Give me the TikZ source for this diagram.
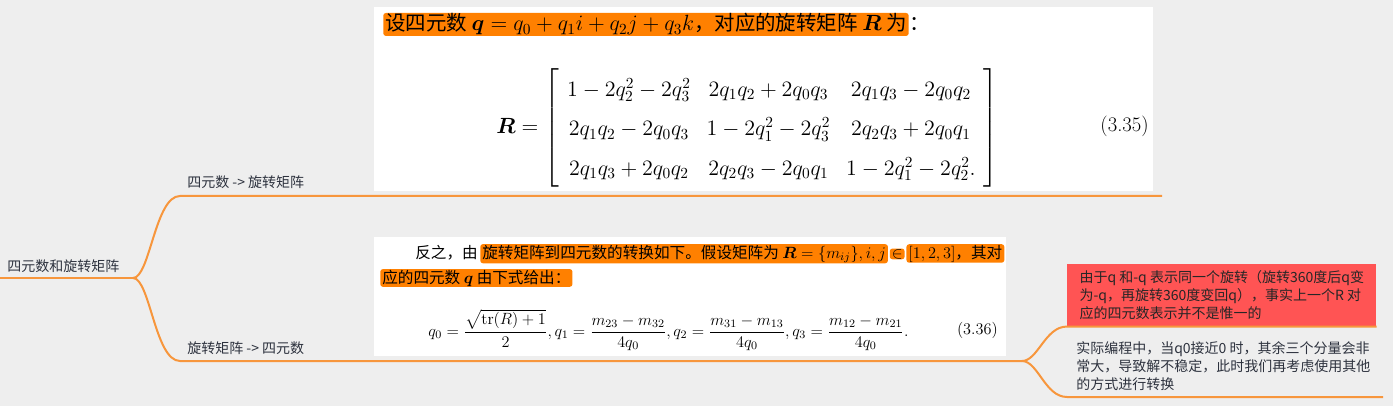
\RequirePackage{fix-cm}
\documentclass[tikz,border=0pt]{standalone}
\usepackage{amsmath,amssymb}
\usepackage{fontspec}
\newfontfamily\mapfont{Noto Sans CJK SC}
\newfontfamily\docfont[Scale=0.96]{Noto Sans CJK SC}
\newfontfamily\bigdocfont[Scale=0.93]{Noto Sans CJK SC}
\usepackage{tikz}
\usetikzlibrary{positioning}
\definecolor{mapbg}{RGB}{238,238,238}
\definecolor{branchline}{RGB}{247,150,60}
\definecolor{hlorange}{RGB}{255,128,0}
\definecolor{notered}{RGB}{255,84,84}
\definecolor{maptext}{RGB}{45,50,62}
\tikzset{
  topic/.style={inner sep=0pt, text=maptext, font=\fontsize{10.5}{13.5}\selectfont\mapfont},
  picbox/.style={fill=white, inner sep=0pt, anchor=north west},
  bigdoc/.style={font=\fontsize{16.5}{19.8}\selectfont\bigdocfont},
  smalldoc/.style={font=\fontsize{12.2}{14.6}\selectfont\docfont},
  hilite/.style={fill=hlorange, rounded corners=2pt, inner xsep=1.5pt, inner ysep=0.5pt, anchor=base west},
  branch/.style={draw=branchline, line width=1.5pt}
}

\begin{document}
\begin{tikzpicture}[x=0.75pt, y=-0.75pt]

% canvas
\fill[mapbg] (0,0) rectangle (1393,406);
\useasboundingbox (0,0) rectangle (1393,406);

% topics
\node[topic, anchor=west] (root) at (7,266) {四元数和旋转矩阵};
\node[topic, anchor=west] (qr)   at (187,182) {四元数 -> 旋转矩阵};
\node[topic, anchor=west] (rq)   at (187,348) {旋转矩阵 -> 四元数};

% pictures
\node[picbox, minimum width=584.25pt, minimum height=138pt] (rotpic)  at (374,7) {};
\node[picbox, minimum width=474pt, minimum height=89.25pt]  (quatpic) at (374,237) {};

% quaternion -> matrix
\node[hilite, bigdoc] (rotline) at (383,31)
  {设四元数 $\boldsymbol{q}=q_0+q_1i+q_2j+q_3k$，对应的旋转矩阵 $\boldsymbol{R}$ 为};
\node[bigdoc, anchor=base west, inner xsep=0pt] (rotcolon) at (rotline.base east) {：};
\node[bigdoc, anchor=west, inner sep=0pt] (rotmat) at (496,128)
  {\arraycolsep=6pt\def\arraystretch{1.5}%
   $\boldsymbol{R}=\left[\begin{array}{ccc}
     1-2q_2^2-2q_3^2 & 2q_1q_2+2q_0q_3 & 2q_1q_3-2q_0q_2\\
     2q_1q_2-2q_0q_3 & 1-2q_1^2-2q_3^2 & 2q_2q_3+2q_0q_1\\
     2q_1q_3+2q_0q_2 & 2q_2q_3-2q_0q_1 & 1-2q_1^2-2q_2^2.
   \end{array}\right]$};
\node[anchor=east, inner sep=0pt, font=\fontsize{15.5}{18.6}\selectfont] (rottag) at (1149,126) {(3.35)};

% matrix -> quaternion
\node[smalldoc, anchor=base west, inner xsep=1.5pt, inner ysep=0.5pt] (quatpre) at (413,258) {反之，由};
\node[hilite, smalldoc] (quatA) at (quatpre.base east)
  {旋转矩阵到四元数的转换如下。假设矩阵为 $\boldsymbol{R}=\{m_{ij}\},i,j$};
\node[hilite, smalldoc] (quatB) at ([xshift=1pt]quatA.base east) {$\in$};
\node[hilite, smalldoc] (quatC) at ([xshift=1pt]quatB.base east) {$[1,2,3]$，其对};
\node[hilite, smalldoc] (quatD) at (380,283) {应的四元数 $\boldsymbol{q}$ 由下式给出：};
\node[smalldoc, anchor=west, inner sep=0pt] (quateq) at (428,330)
  {$\displaystyle q_0=\frac{\sqrt{\mathrm{tr}(R)+1}}{2},q_1=\frac{m_{23}-m_{32}}{4q_0},q_2=\frac{m_{31}-m_{13}}{4q_0},q_3=\frac{m_{12}-m_{21}}{4q_0}.$};
\node[anchor=east, inner sep=0pt, font=\fontsize{12.2}{14.6}\selectfont] (quattag) at (998,330) {(3.36)};

% notes
\node[topic, align=left, fill=notered, text=black!85, anchor=north west,
      minimum width=231.75pt, minimum height=46.5pt] (ambig) at (1067,264)
  {由于q 和-q 表示同一个旋转（旋转360度后q变\\为-q，再旋转360度变回q），事实上一个R 对\\应的四元数表示并不是惟一的};
\node[topic, align=left, anchor=north west] (unstable) at (1076,341)
  {实际编程中，当q0接近0 时，其余三个分量会非\\常大，导致解不稳定，此时我们再考虑使用其他\\的方式进行转换};

% branches
\coordinate (rootin)      at (0,278);
\coordinate (fork)        at (133,278);
\coordinate (qrin)        at (180,196);
\coordinate (qrout)       at (1162,196);
\coordinate (rqin)        at (180,361);
\coordinate (subfork)     at (1022,361);
\coordinate (unstablein)  at (1067,397);
\coordinate (unstableout) at (1383,397);

\draw[branch] (rootin) -- (fork);
\draw[branch] (fork) .. controls +(17,0) and +(-25,0) .. (qrin) -- (qrout);
\draw[branch] (fork) .. controls +(17,0) and +(-25,0) .. (rqin) -- (subfork);
\draw[branch] (subfork) .. controls +(16,0) and +(-22,0) .. (ambig.south west) -- (ambig.south east);
\draw[branch] (subfork) .. controls +(16,0) and +(-22,0) .. (unstablein) -- (unstableout);

\end{tikzpicture}
\end{document}
